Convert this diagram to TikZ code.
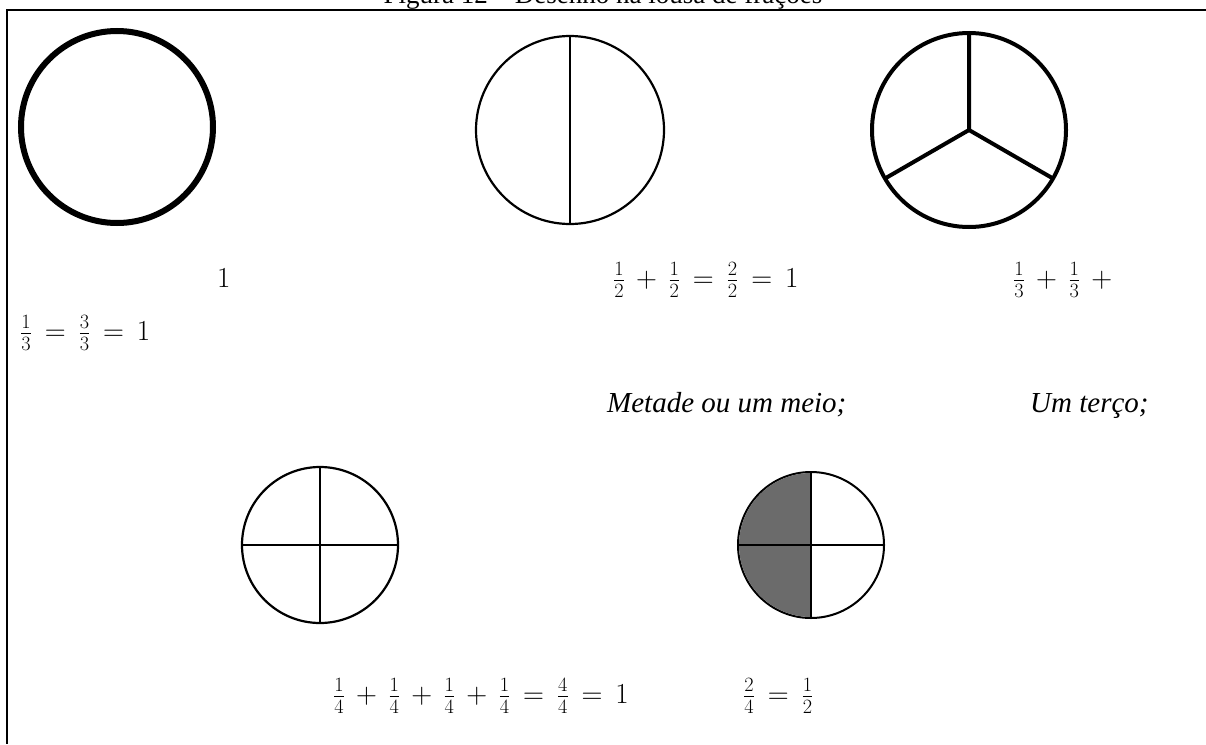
\RequirePackage{fix-cm}
\documentclass[tikz,border=0pt]{standalone}
\usepackage{fontspec}
\setmainfont{Liberation Serif}
\definecolor{halfgray}{HTML}{6B6B6B}
\tikzset{
  txt/.style={anchor=base west, inner sep=0pt, font=\fontsize{29}{35}\selectfont},
  mth/.style={txt, execute at begin node={\medmuskip=7mu plus 2mu minus 4mu\thickmuskip=8mu plus 5mu}},
  disc/.style={circle, draw, inner sep=0pt, outer sep=0pt}
}
\begin{document}
\begin{tikzpicture}[x=1pt,y=-1pt]
\useasboundingbox (0,0) rectangle (1206,744);
\fill[white] (0,0) rectangle (1206,744);
% title (cut by the top edge, as in the reference)
\node[anchor=base, inner sep=0pt, font=\fontsize{27}{32}\selectfont] (title) at (603,3) {Figura 12 -- Desenho na lousa de frações};
% frame
\coordinate (fr) at (1206,10);
\coordinate (fc) at (7,10);
\coordinate (fb) at (7,744);
\draw[line width=2.5pt] (fr) -- (fc) -- (fb);
% circles
\node[disc, line width=6pt, minimum size=192pt] (c1) at (117,127) {};
\node[disc, line width=2.2pt, minimum size=188pt] (c2) at (570,130) {};
\draw[line width=2.2pt] (c2.north) -- (c2.south);
\node[disc, line width=4pt, minimum size=194pt] (c3) at (969,130) {};
\draw[line width=4pt] (c3.90) -- (c3.center) -- (c3.210);
\draw[line width=4pt] (c3.center) -- (c3.330);
\node[disc, line width=2.2pt, minimum size=156pt] (c4) at (320,545) {};
\draw[line width=2.2pt] (c4.north) -- (c4.south);
\draw[line width=2.2pt] (c4.west) -- (c4.east);
\node[disc, line width=2pt, minimum size=146pt] (c5) at (811,545) {};
\begin{scope}
\clip (c5.west |- c5.north) rectangle (c5.south);
\fill[halfgray] (c5.center) circle[radius=72];
\end{scope}
\draw[line width=2pt] (c5.north) -- (c5.south);
\draw[line width=2pt] (c5.west) -- (c5.east);
% texts
\node[mth] (t1) at (217,287) {$1$};
\node[mth] (t2) at (20,340) {$\frac{1}{3}=\frac{3}{3}=1$};
\node[mth] (t3) at (613,287) {$\frac{1}{2}+\frac{1}{2}=\frac{2}{2}=1$};
\node[mth] (t4) at (1013,287) {$\frac{1}{3}+\frac{1}{3}+{}$};
\node[txt] (t5) at (607,412) {\textit{Metade ou um meio;}};
\node[txt] (t6) at (1030,412) {\textit{Um terço;}};
\node[mth] (t7) at (333,703) {$\frac{1}{4}+\frac{1}{4}+\frac{1}{4}+\frac{1}{4}=\frac{4}{4}=1$};
\node[mth] (t8) at (743,703) {$\frac{2}{4}=\frac{1}{2}$};
\end{tikzpicture}
\end{document}
